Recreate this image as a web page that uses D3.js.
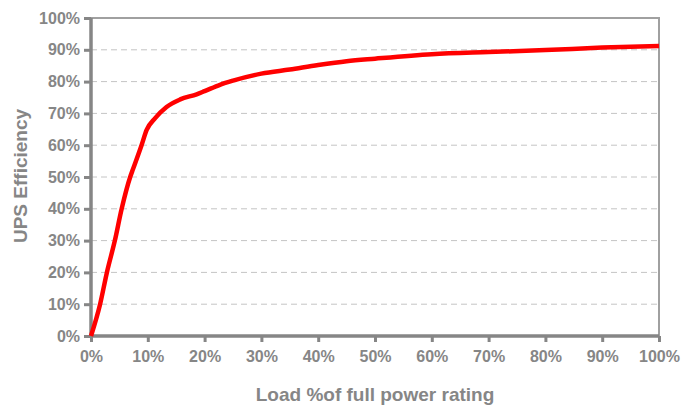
<!DOCTYPE html>
<html>
<head>
<meta charset="utf-8">
<script src="https://cdn.jsdelivr.net/npm/d3@7"></script>
<style>
  body { margin: 0; background: #fff; }
  text { font-family: "Liberation Sans", Arial, sans-serif; font-weight: bold; fill: #868686; }
</style>
</head>
<body>
<script>
var width = 683, height = 406;
var margin = {top: 18, right: 24, bottom: 70, left: 91};

// load (% of full rating) vs UPS efficiency (%)
var loadPct    = [0, 1.6, 2.8, 4.2, 5.4, 6.9, 7.4, 8.9, 9.8, 11.3, 13.3, 15.7, 18.6, 20, 22.7, 25, 30, 35, 40, 45, 50, 60, 70, 80, 90, 100];
var efficiency = [0, 10, 20, 30, 40, 50, 52.5, 60, 64.8, 68.5, 72, 74.4, 76, 77, 79, 80.3, 82.5, 83.8, 85.2, 86.4, 87.2, 88.6, 89.3, 89.9, 90.7, 91.2];
var tickValues = [0, 10, 20, 30, 40, 50, 60, 70, 80, 90, 100];

var data = loadPct.map(function (d, i) { return {x: d, y: efficiency[i]}; });

var w = width - margin.left - margin.right,
    h = height - margin.top - margin.bottom;

var svg = d3.select("body").append("svg")
  .attr("width", width)
  .attr("height", height);

var g = svg.append("g").attr("transform", "translate(" + margin.left + "," + margin.top + ")");

var xscale = d3.scaleLinear().domain([0, 100]).range([0, w]);
var yscale = d3.scaleLinear().domain([0, 100]).range([h, 0]);

// dashed grid
g.append("g").selectAll("line")
  .data(tickValues.filter(function (d) { return d > 0 && d < 100; }))
  .enter().append("line")
  .attr("x1", 0).attr("x2", w)
  .attr("y1", function (d) { return yscale(d); })
  .attr("y2", function (d) { return yscale(d); })
  .attr("stroke", "#c4c4c4")
  .attr("stroke-width", 1)
  .attr("stroke-dasharray", "6,4");

// top & right border
g.append("path")
  .attr("d", "M0," + yscale(100) + "H" + xscale(100) + "V" + yscale(0))
  .attr("fill", "none")
  .attr("stroke", "#a0a0a0")
  .attr("stroke-width", 2);

var pct = function (d) { return d + "%"; };

var yAxis = g.append("g")
  .call(d3.axisLeft(yscale).tickValues(tickValues).tickFormat(pct).tickSize(7).tickPadding(4));
var xAxis = g.append("g")
  .attr("transform", "translate(0," + h + ")")
  .call(d3.axisBottom(xscale).tickValues(tickValues).tickFormat(pct).tickSize(6).tickPadding(9));

[yAxis, xAxis].forEach(function (a) {
  a.select(".domain").attr("stroke", "#868686").attr("stroke-width", 3.5);
  a.selectAll(".tick line").attr("stroke", "#868686").attr("stroke-width", 3);
  a.selectAll(".tick text").style("font-size", "16px").attr("fill", "#868686");
});
yAxis.select(".domain").attr("d", "M0," + (h + 1) + "V0");
xAxis.select(".domain").attr("d", "M-1,0H" + w);

// curve
var line = d3.line()
  .x(function (d) { return xscale(d.x); })
  .y(function (d) { return yscale(d.y); })
  .curve(d3.curveMonotoneX);

g.append("path")
  .datum(data)
  .attr("d", line)
  .attr("fill", "none")
  .attr("stroke", "#ff0000")
  .attr("stroke-width", 4.5)
  .attr("stroke-linejoin", "round");

// axis titles
svg.append("text")
  .attr("x", margin.left + w / 2)
  .attr("y", 401)
  .attr("text-anchor", "middle")
  .style("font-size", "19px")
  .text("Load %of full power rating");

svg.append("text")
  .attr("transform", "translate(27," + 176 + ") rotate(-90)")
  .attr("text-anchor", "middle")
  .style("font-size", "19px")
  .text("UPS Efficiency");
</script>
</body>
</html>
